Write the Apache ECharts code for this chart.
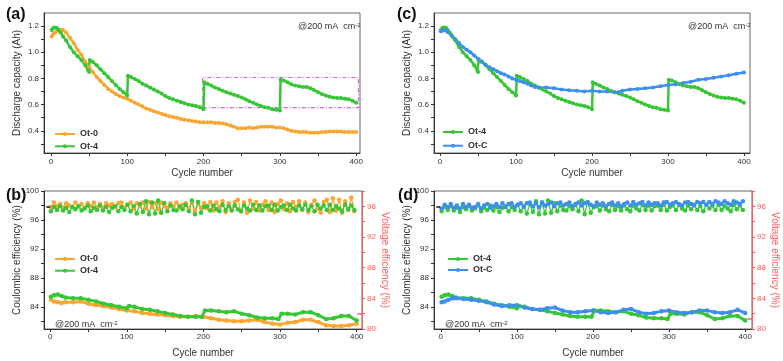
<!DOCTYPE html>
<html><head><meta charset="utf-8">
<script src="https://cdn.jsdelivr.net/npm/echarts@6/dist/echarts.min.js"></script>
<style>html,body{margin:0;padding:0;background:#fff}#c{width:783px;height:361px}</style>
</head><body><div id="c"></div>
<script>
// ---------- data ----------
const xTickVals = [0,50,100,150,200,250,300,350,400];
const xLabelVals = [0,100,200,300,400];
const capLabelVals = [0.4,0.6,0.8,1.0,1.2];
const capTickVals = [0.3,0.4,0.5,0.6,0.7,0.8,0.9,1.0,1.1,1.2];
const ceLabelVals = [84,88,92,96,100];
const ceTickVals = [82,84,86,88,90,92,94,96,98,100];
const veLabelVals = [80,84,88,92,96];
const veTickVals = [80,82,84,86,88,90,92,94,96,98];

// discharge capacity (Ah) [cycle, value]
const capOt0 = [[1,1.12],[3,1.14],[5,1.15],[8,1.16],[10,1.17],[13,1.17],[16,1.17],[20,1.15],[25,1.11],[30,1.07],[35,1.02],[40,0.98],[45,0.93],[50,0.89],[55,0.85],[60,0.81],[65,0.78],[70,0.75],[75,0.72],[80,0.70],[85,0.68],[90,0.665],[95,0.655],[100,0.645],[105,0.63],[110,0.615],[115,0.60],[120,0.585],[125,0.57],[130,0.56],[135,0.55],[140,0.54],[145,0.53],[150,0.52],[155,0.51],[160,0.505],[165,0.50],[170,0.49],[175,0.485],[180,0.48],[185,0.475],[190,0.47],[195,0.465],[200,0.465],[205,0.465],[210,0.465],[215,0.46],[220,0.46],[225,0.455],[230,0.45],[235,0.44],[240,0.43],[245,0.42],[250,0.42],[255,0.42],[260,0.425],[265,0.42],[270,0.425],[275,0.43],[280,0.43],[285,0.43],[290,0.43],[295,0.425],[300,0.425],[305,0.42],[310,0.41],[315,0.40],[320,0.395],[325,0.39],[330,0.39],[335,0.39],[340,0.385],[345,0.385],[350,0.385],[355,0.39],[360,0.39],[365,0.395],[370,0.395],[375,0.395],[380,0.395],[385,0.39],[390,0.39],[395,0.39],[400,0.39]];
const capOt4 = [[1,1.17],[3,1.185],[5,1.19],[8,1.185],[10,1.17],[13,1.15],[16,1.12],[20,1.09],[25,1.04],[30,1.00],[35,0.97],[40,0.94],[45,0.90],[49,0.86],[50,0.85],
 [51,0.94],[55,0.925],[60,0.90],[65,0.87],[70,0.84],[75,0.81],[80,0.78],[85,0.75],[90,0.72],[95,0.695],[100,0.67],
 [101,0.82],[105,0.81],[110,0.795],[115,0.78],[120,0.76],[125,0.745],[130,0.73],[135,0.715],[140,0.70],[145,0.685],[150,0.665],[155,0.65],[160,0.64],[165,0.63],[170,0.62],[175,0.61],[180,0.60],[185,0.595],[190,0.59],[195,0.58],[200,0.565],
 [201,0.77],[205,0.76],[210,0.745],[215,0.73],[220,0.72],[225,0.705],[230,0.695],[235,0.685],[240,0.675],[245,0.665],[250,0.655],[255,0.64],[260,0.625],[265,0.615],[270,0.60],[275,0.59],[280,0.58],[285,0.575],[290,0.565],[295,0.56],[300,0.555],
 [301,0.79],[305,0.785],[310,0.77],[315,0.755],[320,0.745],[325,0.74],[330,0.735],[335,0.735],[340,0.725],[345,0.71],[350,0.695],[355,0.68],[360,0.67],[365,0.66],[370,0.655],[375,0.65],[380,0.65],[385,0.645],[390,0.64],[395,0.63],[400,0.615]];
const capOtC = [[1,1.16],[3,1.165],[5,1.17],[8,1.165],[10,1.155],[15,1.13],[20,1.10],[25,1.07],[30,1.04],[35,1.02],[40,1.00],[45,0.975],[50,0.95],[55,0.93],[60,0.905],[65,0.885],[70,0.87],[75,0.855],[80,0.84],[85,0.83],[90,0.815],[95,0.80],[100,0.79],[105,0.78],[110,0.77],[115,0.76],[120,0.745],[125,0.735],[130,0.73],[140,0.73],[150,0.725],[160,0.715],[170,0.71],[180,0.705],[190,0.70],[200,0.705],[210,0.70],[220,0.70],[230,0.695],[235,0.695],[240,0.705],[250,0.715],[260,0.72],[270,0.725],[280,0.73],[290,0.74],[300,0.75],[310,0.755],[320,0.765],[330,0.775],[340,0.79],[350,0.795],[360,0.805],[370,0.815],[380,0.825],[390,0.835],[400,0.845]];

// voltage efficiency (%) [cycle, value]
const veOt0 = [[1,83.8],[5,83.6],[10,83.5],[15,83.4],[20,83.5],[30,83.5],[40,83.6],[50,83.3],[60,83.1],[70,83.0],[80,82.8],[90,82.6],[100,82.4],[110,82.3],[120,82.1],[130,82.0],[140,81.9],[150,81.8],[160,81.7],[170,81.6],[180,81.6],[190,81.7],[200,81.6],[210,81.4],[220,81.2],[230,81.1],[240,81.0],[250,81.0],[260,81.1],[270,81.2],[280,80.9],[290,80.7],[300,80.6],[310,80.8],[320,80.9],[330,81.2],[340,81.2],[350,80.9],[360,80.5],[370,80.4],[380,80.4],[390,80.5],[400,80.7]];
const veOt4 = [[1,84.2],[5,84.4],[10,84.5],[15,84.3],[20,84.1],[30,84.0],[40,84.0],[50,83.8],[60,83.6],[70,83.3],[80,83.1],[90,82.9],[100,82.7],[103,83.0],[110,82.9],[120,82.6],[130,82.5],[140,82.3],[150,82.1],[160,81.9],[170,81.7],[180,81.6],[190,81.6],[198,81.6],[202,82.4],[210,82.4],[220,82.3],[230,82.2],[240,82.3],[250,82.0],[260,81.8],[270,81.5],[280,81.4],[290,81.4],[298,81.3],[302,82.0],[310,82.0],[320,81.9],[330,82.2],[340,82.2],[350,81.8],[360,81.3],[370,81.4],[380,81.7],[390,81.7],[400,81.1]];
const veOtC = [[1,83.5],[5,83.6],[10,83.8],[15,84.0],[20,84.0],[30,83.9],[40,83.8],[50,83.7],[60,83.5],[70,83.2],[80,83.0],[90,83.1],[100,83.1],[110,82.8],[120,82.6],[130,82.5],[140,82.7],[150,82.8],[160,82.4],[170,82.2],[180,82.2],[190,82.3],[200,82.4],[210,82.2],[220,82.1],[230,82.2],[240,82.5],[250,82.6],[260,82.2],[270,82.0],[280,82.1],[290,82.3],[300,82.4],[310,82.2],[320,82.1],[330,82.2],[340,82.4],[350,82.4],[360,82.2],[370,82.1],[380,82.2],[390,82.5],[400,82.1]];

// coulombic efficiency (%)
const ceCycles = [1,5,9,13,17,21,25,29,33,37,41,45,49,53,57,61,65,69,73,77,81,85,89,93,97,101,105,109,113,117,121,125,129,133,137,141,145,149,153,157,161,165,169,173,177,181,185,189,193,197,201,205,209,213,217,221,225,229,233,237,241,245,249,253,257,261,265,269,273,277,281,285,289,293,297,301,305,309,313,317,321,325,329,333,337,341,345,349,353,357,361,365,369,373,377,381,385,389,393,397];
const ceOt0 = [97.8,98.4,97.9,98.2,97.7,98.3,98.0,97.8,98.4,97.9,98.2,
 97.7,98.3,97.9,98.4,97.8,98.2,97.7,98.3,98.0,98.2,
 97.8,98.3,98.4,97.7,98.1,98.4,97.6,98.3,97.9,98.4,
 97.6,98.5,97.8,98.3,97.5,98.4,97.9,97.7,98.3,97.9,
 98.4,97.7,98.1,98.3,97.6,98.4,97.4,98.5,97.7,98.3,
 97.6,98.5,97.3,98.4,97.8,98.6,97.1,98.3,97.5,98.5,
 98.8,97.2,98.4,97.0,98.7,97.6,98.5,97.3,98.1,98.6,
 97.4,98.4,97.1,98.2,98.7,97.5,98.3,97.2,98.5,97.8,
 98.6,97.4,98.4,97.1,98.1,98.7,97.6,97.0,98.5,98.8,
 97.1,99.0,97.3,98.8,97.0,98.6,97.4,99.1,97.2];
const ceOt4 = [97.2,97.8,97.4,97.9,97.3,97.7,97.1,97.8,97.5,97.9,97.3,
 97.6,98.0,97.2,97.7,97.4,98.0,97.3,97.8,97.1,97.7,
 97.9,97.2,97.8,97.4,98.1,97.2,97.9,96.9,98.2,97.1,
 98.6,96.8,98.4,96.9,98.7,97.0,98.3,97.2,98.0,97.4,
 97.3,97.9,97.5,98.1,97.2,98.7,96.8,98.5,97.0,97.8,
 97.9,97.3,98.0,97.5,97.2,98.1,97.4,97.9,97.3,98.0,
 97.5,97.2,98.0,97.6,97.3,98.1,97.4,98.0,97.3,97.9,
 98.0,97.4,98.1,97.3,97.8,98.0,97.4,98.1,97.6,97.3,
 98.0,97.5,98.1,97.4,97.9,97.2,98.1,97.6,98.0,97.4,
 98.1,97.4,97.9,97.6,97.2,98.1,97.5,98.0,97.4];
const ceOtC = [97.6,98.1,97.8,98.2,97.7,98.0,97.6,98.2,97.8,98.1,97.7,
 97.8,98.2,97.6,98.0,98.2,97.7,97.9,98.2,97.8,98.3,
 97.8,98.2,98.3,97.8,98.1,98.3,97.8,98.3,98.4,97.9,
 98.3,97.8,98.4,98.0,98.2,98.4,97.9,98.3,98.4,98.0,
 98.2,98.4,97.9,98.2,98.4,98.0,98.3,98.4,98.1,97.9,
 98.4,98.1,98.3,97.9,98.2,98.4,98.0,98.3,97.9,98.2,
 98.4,98.0,98.5,98.1,98.3,98.5,98.0,98.4,98.1,98.3,
 98.3,98.0,98.4,98.5,98.1,98.3,98.5,98.2,98.0,98.4,
 98.5,98.2,98.0,98.5,98.3,98.5,98.1,98.5,98.2,98.6,
 98.4,98.2,98.6,98.3,98.1,98.6,98.4,98.2,98.6];

// highlighted region in (a): [cycle range], [capacity range]
const boxCycles = [199, 403];
const boxCap = [0.577, 0.807];

// ---------- style ----------
const ORANGE = '#f9a632', GREEN = '#36c636', BLUE = '#3d8ef2', RED = '#ff5b5b', AX = '#333';
const pair = (xs, ys) => xs.map((x, i) => [x, ys[i]]);

function xAx(gi, min, max, margin, gap) {
  return { type: 'value', gridIndex: gi, min, max,
    name: 'Cycle number', nameLocation: 'middle', nameGap: gap,
    nameTextStyle: { fontSize: 10, color: AX, fontFamily: 'Liberation Sans' },
    axisLine: { onZero: false, lineStyle: { color: AX, width: 1 } },
    axisTick: { length: 3, customValues: xTickVals, lineStyle: { color: AX } },
    axisLabel: { customValues: xLabelVals, fontSize: 8, color: AX, margin, fontFamily: 'Liberation Sans' },
    splitLine: { show: false } };
}
function yAx(gi, min, max, labels, ticks, name, opt) {
  opt = opt || {};
  const c = opt.color || AX;
  return { type: 'value', gridIndex: gi, min, max, position: opt.right ? 'right' : 'left',
    name, nameLocation: 'middle', nameGap: opt.gap || 22, nameRotate: opt.right ? -90 : 90,
    nameTextStyle: { fontSize: 10, color: c, fontFamily: 'Liberation Sans' },
    axisLine: { show: true, onZero: false, lineStyle: { color: c, width: 1 } },
    axisTick: { show: true, length: 3, customValues: ticks, lineStyle: { color: c } },
    axisLabel: { customValues: labels, fontSize: 8, color: c, margin: 5, fontFamily: 'Liberation Sans',
      formatter: opt.fmt || (v => String(v)) },
    splitLine: { show: false } };
}
function capS(name, data, color, gi) {
  return { type: 'line', name, data, xAxisIndex: gi, yAxisIndex: gi, color,
    symbol: 'circle', symbolSize: 4, showSymbol: true, lineStyle: { width: 2.5, color },
    itemStyle: { color }, animation: false };
}
function effS(name, data, color, xi, yi, w, sz) {
  return { type: 'line', name, data, xAxisIndex: xi, yAxisIndex: yi, color,
    symbol: 'circle', symbolSize: sz, showSymbol: true, lineStyle: { width: w, color },
    itemStyle: { color }, animation: false };
}
function legendAt(names, left, top, gap) {
  return { data: names, orient: 'vertical', left, top, itemWidth: 20, itemHeight: 5, itemGap: gap,
    textStyle: { fontSize: 9, fontWeight: 'bold', color: '#333', lineHeight: 10, fontFamily: 'Liberation Sans' },
    selectedMode: false };
}
const annot = (left, top) => ({ text: '@200 mA  cm{s|-2}', left, top,
  textStyle: { fontSize: 9, fontWeight: 'normal', color: '#333', fontFamily: 'Liberation Sans',
    rich: { s: { fontSize: 6, verticalAlign: 'top', lineHeight: 6, fontFamily: 'Liberation Sans', color: '#333' } } } });
const panel = (t, left, top) => ({ text: t, left, top,
  textStyle: { fontSize: 16, fontWeight: 'bold', color: '#111', fontFamily: 'Liberation Sans' } });

const capFmt = v => v.toFixed(1);

const series = [
  capS('Ot-0', capOt0, ORANGE, 0),
  Object.assign(capS('Ot-4', capOt4, GREEN, 0), {
    markArea: { silent: true, itemStyle: { color: 'rgba(0,0,0,0)', borderColor: '#d460de', borderWidth: 1.2, borderType: [4, 2, 1, 2] },
      data: [[{ coord: [boxCycles[0], boxCap[0]] }, { coord: [boxCycles[1], boxCap[1]] }]] } }),
  capS('Ot-4', capOt4, GREEN, 1),
  capS('Ot-C', capOtC, BLUE, 1),
  // (b)
  effS('Ot-0', pair(ceCycles, ceOt0), ORANGE, 2, 2, 1.2, 4.5),
  Object.assign(effS('Ot-4', pair(ceCycles, ceOt4), GREEN, 2, 2, 1.2, 4.5), {
    markLine: { silent: true, symbol: 'none', label: { show: false }, lineStyle: { color: '#111', width: 1.5, type: 'solid' },
      data: [[{ coord: [-5, 97.8] }, { coord: [0, 97.8] }]] } }),
  effS('Ot-0', veOt0, ORANGE, 2, 3, 3, 4.5),
  Object.assign(effS('Ot-4', veOt4, GREEN, 2, 3, 3, 4.5), {
    markLine: { silent: true, symbol: 'none', label: { show: false }, lineStyle: { color: RED, width: 1.5, type: 'solid' },
      data: [[{ coord: [401, 82.0] }, { coord: [407, 82.0] }]] } }),
  // (d)
  effS('Ot-4', pair(ceCycles, ceOt4), GREEN, 3, 4, 1.2, 4.5),
  Object.assign(effS('Ot-C', pair(ceCycles, ceOtC), BLUE, 3, 4, 1.2, 4.5), {
    markLine: { silent: true, symbol: 'none', label: { show: false }, lineStyle: { color: '#111', width: 1.5, type: 'solid' },
      data: [[{ coord: [-6, 97.8] }, { coord: [-1, 97.8] }]] } }),
  Object.assign(effS('Ot-4', veOt4, GREEN, 3, 5, 3, 4.5), {
    markLine: { silent: true, symbol: 'none', label: { show: false }, lineStyle: { color: RED, width: 1.5, type: 'solid' },
      data: [[{ coord: [403, 81.4] }, { coord: [409, 81.4] }]] } }),
  effS('Ot-C', veOtC, BLUE, 3, 5, 3, 4.5)
];

const option = {
  backgroundColor: '#fff',
  animation: false,
  title: [panel('(a)', 1, 2), panel('(c)', 392, 2), panel('(b)', 1, 183), panel('(d)', 393, 183),
    annot(293, 17), annot(683, 17), annot(50, 315), annot(440, 315)],
  grid: [
    { left: 44, top: 13, width: 316, height: 140, show: true, borderColor: '#666', borderWidth: 1, backgroundColor: 'transparent' },
    { left: 434, top: 13, width: 316, height: 140, show: true, borderColor: '#666', borderWidth: 1, backgroundColor: 'transparent' },
    { left: 44, top: 191, width: 318, height: 138, show: true, borderColor: '#666', borderWidth: 1, backgroundColor: 'transparent' },
    { left: 434, top: 191, width: 318, height: 138, show: true, borderColor: '#666', borderWidth: 1, backgroundColor: 'transparent' }
  ],
  xAxis: [xAx(0, -9, 405, 5, 15), xAx(1, -8, 408, 5, 15), xAx(2, -8, 407, 4, 19), xAx(3, -9, 409, 4, 19)],
  yAxis: [
    yAx(0, 0.23, 1.3, capLabelVals, capTickVals, 'Discharge capacity (Ah)', { fmt: capFmt }),
    yAx(1, 0.23, 1.3, capLabelVals, capTickVals, 'Discharge capacity (Ah)', { fmt: capFmt }),
    yAx(2, 81, 100, ceLabelVals, ceTickVals, 'Coulombic efficiency (%)'),
    yAx(2, 80, 98, veLabelVals, veTickVals, 'Voltage efficiency (%)', { right: true, color: RED, gap: 16 }),
    yAx(3, 81, 100, ceLabelVals, ceTickVals, 'Coulombic efficiency (%)'),
    yAx(3, 80, 98, veLabelVals, veTickVals, 'Voltage efficiency (%)', { right: true, color: RED, gap: 16 })
  ],
  legend: [
    legendAt(['Ot-0', 'Ot-4'], 49, 124, 2.3),
    legendAt(['Ot-4', 'Ot-C'], 437, 122, 3.7),
    legendAt(['Ot-0', 'Ot-4'], 49, 249, 1.7),
    legendAt(['Ot-4', 'Ot-C'], 442, 249, 1)
  ],
  series
};
const chart = echarts.init(document.getElementById('c'), null, { renderer: 'canvas' });
chart.setOption(option);
</script></body></html>
